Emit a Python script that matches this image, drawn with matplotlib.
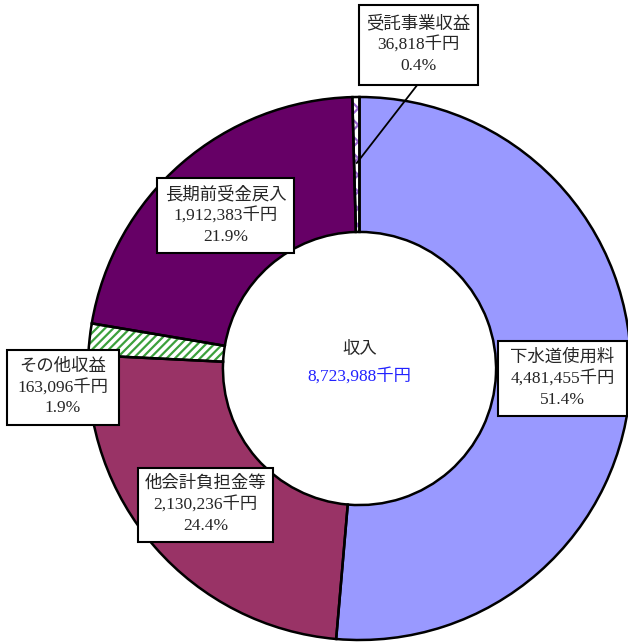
import numpy as np
import matplotlib
matplotlib.use("Agg")
import matplotlib.pyplot as plt
from matplotlib.patches import Rectangle

# serif digits like the original, CJK glyphs from Noto
plt.rcParams['font.family'] = ['Liberation Serif', 'Noto Sans CJK JP', 'DejaVu Sans']
plt.rcParams['hatch.linewidth'] = 1.6

# revenue breakdown (thousand yen), clockwise from the top
names = ['下水道使用料', '他会計負担金等', 'その他収益', '長期前受金戻入', '受託事業収益']
values = [4481455, 2130236, 163096, 1912383, 36818]
colors = ['#9999FF', '#993366', 'white', '#660066', 'white']
hatches = [None, None, '////', None, 'xx']
hatch_colors = [None, None, '#3CA03C', None, '#9966CC']
total_label = '収入'

W, H = 628, 642
fig = plt.figure(figsize=(W / 100, H / 100), dpi=100)
ax = fig.add_axes([0, 0, 1, 1])

def py(y):
    # pixel row -> data y
    return H - y

cx, cy, R = 359.5, py(368.5), 271.5
ring = 0.497

# fills (hatches drawn with their own colour)
wedges, _ = ax.pie(values, colors=colors, startangle=90, counterclock=False,
                   center=(cx, cy), radius=R, frame=True,
                   wedgeprops=dict(width=R * ring, linewidth=0))
for w, h, hc in zip(wedges, hatches, hatch_colors):
    if h:
        w.set_hatch(h)
        w.set_edgecolor(hc)
# outlines
ax.pie(values, colors=['none'] * len(values), startangle=90, counterclock=False,
       center=(cx, cy), radius=R, frame=True,
       wedgeprops=dict(width=R * ring, linewidth=1.8, edgecolor='black',
                       fill=False))
ax.set_xlim(0, W)
ax.set_ylim(0, H)
ax.set_aspect('equal')
ax.axis('off')

total = sum(values)
# label box layout in pixel coords: x0, y0, x1, y1
boxes = [(498, 341, 627, 416),
         (138, 468, 273, 542),
         (7, 350, 119, 425),
         (157, 178, 294, 253),
         (359, 5, 478, 85)]

for name, v, b in zip(names, values, boxes):
    x0, y0, x1, y1 = b
    ax.add_patch(Rectangle((x0, py(y1)), x1 - x0, y1 - y0, facecolor='white',
                           edgecolor='black', linewidth=1.5, zorder=5))
    txt = '%s\n%s千円\n%.1f%%' % (name, format(v, ','), v / total * 100)
    ax.text((x0 + x1) / 2, py((y0 + y1) / 2), txt, ha='center', va='center',
            fontsize=12.5, linespacing=1.35, color='#262626', zorder=6)

# leader line for the thin slice
w = wedges[4]
mid = np.deg2rad((w.theta1 + w.theta2) / 2)
r = R * 0.757
ax.plot([418, cx + r * np.cos(mid)], [py(84), cy + r * np.sin(mid)],
        color='black', linewidth=1.3, zorder=4)

ax.text(cx, py(350), total_label, ha='center', va='center', fontsize=12.5,
        color='#262626')
ax.text(cx, py(377), format(total, ',') + '千円', ha='center', va='center',
        fontsize=12.5, color='#2222FF')

fig.savefig('out.png', dpi=100)
